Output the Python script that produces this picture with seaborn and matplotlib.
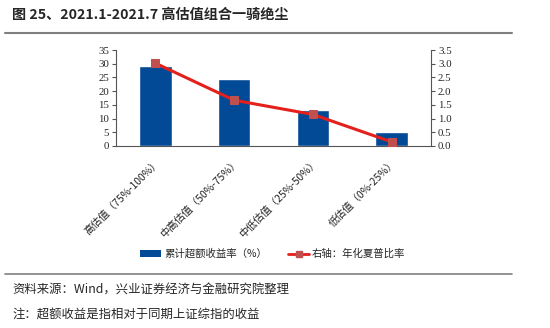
import numpy as np
import pandas as pd
import matplotlib
matplotlib.use("Agg")
import matplotlib.pyplot as plt
from matplotlib.lines import Line2D
from matplotlib.patches import Patch
import seaborn as sns

categories = ["高估值（75%-100%）", "中高估值（50%-75%）", "中低估值（25%-50%）", "低估值（0%-25%）"]
excess_return = [29.3, 24.4, 13.3, 5.0]
sharpe_ratio = [3.02, 1.67, 1.15, 0.15]
left_ticks = [0, 5, 10, 15, 20, 25, 30, 35]
right_ticks = [0.0, 0.5, 1.0, 1.5, 2.0, 2.5, 3.0, 3.5]

bar_label = "累计超额收益率（%）"
line_label = "右轴：年化夏普比率"
title = "图 25、2021.1-2021.7 高估值组合一骑绝尘"
source = "资料来源：Wind，兴业证券经济与金融研究院整理"
note = "注：超额收益是指相对于同期上证综指的收益"

sns.set_theme(style="white")
plt.rcParams["font.family"] = ["Noto Sans CJK SC", "DejaVu Sans"]

BAR_BLUE = "#034a96"
LINE_RED = "#e3201b"
MARK_RED = "#c0504d"
SERIF = ["Liberation Serif", "Noto Sans CJK SC"]

df = pd.DataFrame({"cat": categories, "ret": excess_return, "sharpe": sharpe_ratio})
df["pos"] = np.arange(len(df))

fig = plt.figure(figsize=(5.5, 3.28), dpi=100)
ax = fig.add_axes([116 / 550, 1 - 146 / 328, 315 / 550, 96 / 328])

sns.barplot(data=df, x="cat", y="ret", color=BAR_BLUE, saturation=1, width=0.41, ax=ax)
ax.set_xlim(-0.5, len(df) - 0.5)
ax.set_ylim(0, 35)
ax.set_yticks(left_ticks)
ax.set_yticklabels([str(t) for t in left_ticks], family=SERIF, fontsize=7.8)
ax.set_xlabel("")
ax.set_ylabel("")
ax.set_xticks(df["pos"])
ax.set_xticklabels(categories, rotation=45, ha="right", rotation_mode="anchor",
                   fontsize=7.4, color="#222222")

ax2 = ax.twinx()
sns.lineplot(data=df, x="pos", y="sharpe", color=LINE_RED, linewidth=2.2, marker="s",
             markersize=5.5, markerfacecolor=MARK_RED, markeredgecolor=MARK_RED, ax=ax2)
ax2.set_ylim(0, 3.5)
ax2.set_yticks(right_ticks)
ax2.set_yticklabels([f"{t:.1f}" for t in right_ticks], family=SERIF, fontsize=7.8)
ax2.set_xlim(-0.5, len(df) - 0.5)
ax2.set_ylabel("")
ax2.set_xlabel("")

for a in (ax, ax2):
    a.spines["top"].set_visible(False)
    for s in ("left", "right", "bottom"):
        a.spines[s].set_color("#555555")
        a.spines[s].set_linewidth(0.8)
    a.grid(False)
ax.spines["right"].set_visible(False)
ax2.spines["left"].set_visible(False)
ax2.spines["bottom"].set_visible(False)
ax.tick_params(axis="y", which="both", left=True, length=3, width=0.8, color="#555555", pad=2)
ax.tick_params(axis="x", bottom=False, pad=2)
ax2.tick_params(axis="y", right=True, length=3, width=0.8, color="#555555", pad=2)

handles = [Patch(facecolor=BAR_BLUE, edgecolor="none"),
           Line2D([0], [0], color=LINE_RED, lw=2, marker="s", markersize=5,
                  markerfacecolor=MARK_RED, markeredgecolor=MARK_RED)]
fig.legend(handles, [bar_label, line_label], loc="center", bbox_to_anchor=(273 / 550, 1 - 254 / 328),
           ncol=2, frameon=False, fontsize=7.5, handlelength=2.0, handleheight=0.6,
           columnspacing=2.0, handletextpad=0.3)

fig.text(12 / 550, 1 - 15 / 328, title, fontsize=10.2, fontweight="bold", va="center", ha="left")
fig.add_artist(Line2D([5 / 550, 512 / 550], [1 - 33 / 328] * 2, color="#7f7f7f", lw=1.5))
fig.add_artist(Line2D([5 / 550, 512 / 550], [1 - 274 / 328] * 2, color="#7f7f7f", lw=1.2))
fig.text(12 / 550, 1 - 290 / 328, source, fontsize=8.9, va="center", ha="left")
fig.text(12 / 550, 1 - 315 / 328, note, fontsize=8.9, va="center", ha="left")

fig.savefig("out.png", dpi=100)
